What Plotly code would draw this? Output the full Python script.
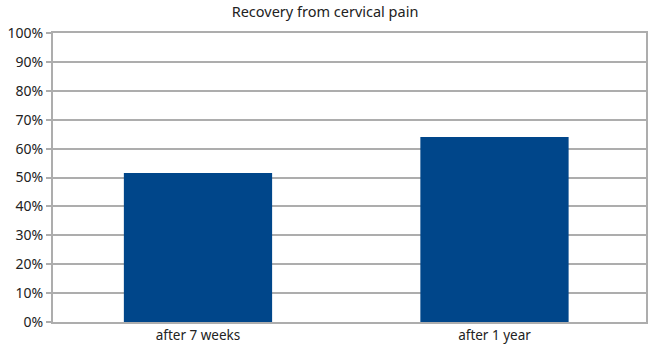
import plotly.graph_objects as go

categories = ["after 7 weeks", "after 1 year"]
values = [0.516, 0.64]
y_ticks = [i / 10 for i in range(11)]
y_tick_labels = [f"{i*10}%" for i in range(11)]

fig = go.Figure(go.Bar(
    x=categories, y=values, width=0.5,
    marker=dict(color="#00468A", line=dict(width=0)),
))

fig.update_layout(
    width=650, height=349,
    margin=dict(l=53, r=2, t=33, b=27),
    paper_bgcolor="white", plot_bgcolor="white",
    font=dict(family="Noto Sans, Open Sans, sans-serif", size=13, color="#222222"),
    title=dict(text="Recovery from cervical pain", x=0.5, xanchor="center",
               y=0.965, yanchor="middle", font=dict(size=14.5, color="#222222")),
    showlegend=False,
    bargap=0.5,
)
fig.update_xaxes(
    range=[-0.489, 1.511], showgrid=False, showline=True, linecolor="#ADADAD",
    linewidth=2, mirror=True, ticks="", tickfont=dict(size=13.5),
)
fig.update_yaxes(
    range=[0, 1], tickvals=y_ticks, ticktext=y_tick_labels,
    showgrid=True, gridcolor="#ADADAD", gridwidth=1.5,
    showline=True, linecolor="#ADADAD", linewidth=2, mirror=True,
    ticks="outside", ticklen=5, tickcolor="#ADADAD", tickwidth=2,
    tickfont=dict(size=14), zeroline=False,
)

fig.write_html("out.html")
